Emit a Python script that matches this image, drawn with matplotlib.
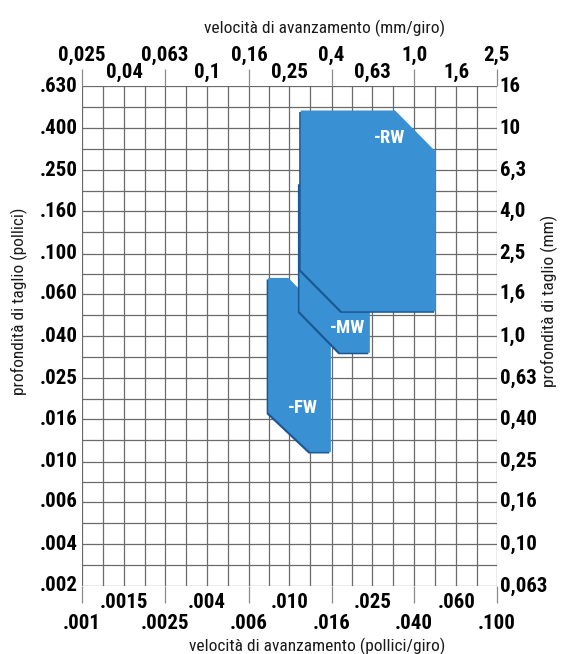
import numpy as np
import matplotlib
matplotlib.use("Agg")
import matplotlib.pyplot as plt
import matplotlib.patheffects as pe
from matplotlib.patches import Polygon

# scale labels (mm on top/right, inches on bottom/left)
feed_mm = ['0,025', '0,04', '0,063', '0,1', '0,16', '0,25', '0,4', '0,63', '1,0', '1,6', '2,5']
feed_in = ['.001', '.0015', '.0025', '.004', '.006', '.010', '.016', '.025', '.040', '.060', '.100']
depth_mm = ['16', '10', '6,3', '4,0', '2,5', '1,6', '1,0', '0,63', '0,40', '0,25', '0,16', '0,10', '0,063']
depth_in = ['.630', '.400', '.250', '.160', '.100', '.060', '.040', '.025', '.016', '.010', '.006', '.004', '.002']

# chip-breaker application areas, feed (mm/giro) vs depth of cut (mm)
rw_feed = [0.284, 0.81, 1.27, 1.27, 0.448, 0.284]
rw_depth = [12.2, 12.2, 7.74, 1.32, 1.32, 2.09]
mw_feed = [0.280, 0.612, 0.612, 0.439, 0.280]
mw_depth = [5.48, 5.48, 0.834, 0.834, 1.32]
fw_feed = [0.198, 0.2475, 0.397, 0.397, 0.315, 0.198]
fw_depth = [1.91, 1.91, 1.19, 0.278, 0.278, 0.43]

zones = ['-FW', '-MW', '-RW']
zone_label_feed = [0.29, 0.48, 0.757]
zone_label_depth = [0.454, 1.10, 9.0]

BLUE = '#3990d3'
SHADOW = '#1b5792'
GRID = '#6a6a6a'
NARROW = ['Roboto Condensed', 'DejaVu Sans']


def num(s):
    return float(s.replace(',', '.'))


def grid_values(ticks):
    # every labelled value plus the geometric midpoint between neighbours
    out = []
    for a, b in zip(ticks[:-1], ticks[1:]):
        out += [a, np.sqrt(a * b)]
    return out + [ticks[-1]]


fig = plt.figure(figsize=(5.62, 6.54), dpi=100)
ax = fig.add_axes([0.1454, 0.104, 0.7384, 0.7645])
ax.set_xscale('log')
ax.set_yscale('log')

xt = [num(s) for s in feed_mm]
yt = [num(s) for s in depth_mm]
ax.set_xlim(xt[0], xt[-1])
ax.set_ylim(yt[-1], yt[0])

for v in grid_values(xt):
    ax.axvline(v, color=GRID, lw=0.9, zorder=1)
for v in grid_values(yt):
    ax.axhline(v, color=GRID, lw=0.9, zorder=1)

for sp in ax.spines.values():
    sp.set_visible(False)
ax.set_xticks(xt[::2])
ax.set_xticks([], minor=True)
ax.set_yticks([])
ax.set_yticks([], minor=True)
ax.tick_params(axis='x', which='major', top=True, bottom=True, length=12.5,
               width=0.9, color='#8a8a8a', labelbottom=False, labeltop=False)

# zone polygons: FW at the back, MW over it, RW on top
shadow = [pe.SimplePatchShadow(offset=(-1.1, -1.1), shadow_rgbFace=SHADOW, alpha=1.0), pe.Normal()]
for fx, dy, z in [(fw_feed, fw_depth, 3), (mw_feed, mw_depth, 4), (rw_feed, rw_depth, 5)]:
    poly = Polygon(np.column_stack([fx, dy]), closed=True, facecolor=BLUE,
                   edgecolor='none', zorder=z)
    poly.set_path_effects(shadow)
    ax.add_patch(poly)

for name, fx, dy in zip(zones, zone_label_feed, zone_label_depth):
    ax.text(fx, dy, name, color='white', fontsize=13.5, fontweight='bold',
            family=NARROW, ha='center', va='center', zorder=6)

# tick labels in two staggered rows
lab = dict(fontsize=15, fontweight='bold', family=NARROW, color='black')
xtop = ax.get_xaxis_transform()
for i, (v, s) in enumerate(zip(xt, feed_mm)):
    y = 1.05 if i % 2 == 0 else 1.016
    ax.text(v, y, s, transform=xtop, ha='center', va='baseline', **lab)
for i, (v, s) in enumerate(zip(xt, feed_in)):
    y = -0.086 if i % 2 == 0 else -0.044
    ax.text(v, y, s, transform=xtop, ha='center', va='baseline', **lab)

ytr = ax.get_yaxis_transform()
for v, s in zip(yt, depth_in):
    ax.text(-0.009, v, s, transform=ytr, ha='right', va='center', **lab)
for v, s in zip(yt, depth_mm):
    ax.text(1.007, v, s, transform=ytr, ha='left', va='center', **lab)

title = dict(fontsize=12.5, family=NARROW, color='#1a1a1a')
fig.text(0.578, 0.957, 'velocità di avanzamento (mm/giro)', ha='center', va='center', **title)
fig.text(0.564, 0.012, 'velocità di avanzamento (pollici/giro)', ha='center', va='center', **title)
fig.text(0.034, 0.54, 'profondità di taglio (pollici)', rotation=90, ha='center', va='center', **title)
fig.text(0.977, 0.54, 'profondità di taglio (mm)', rotation=90, ha='center', va='center', **title)

fig.savefig('out.png', dpi=100)
